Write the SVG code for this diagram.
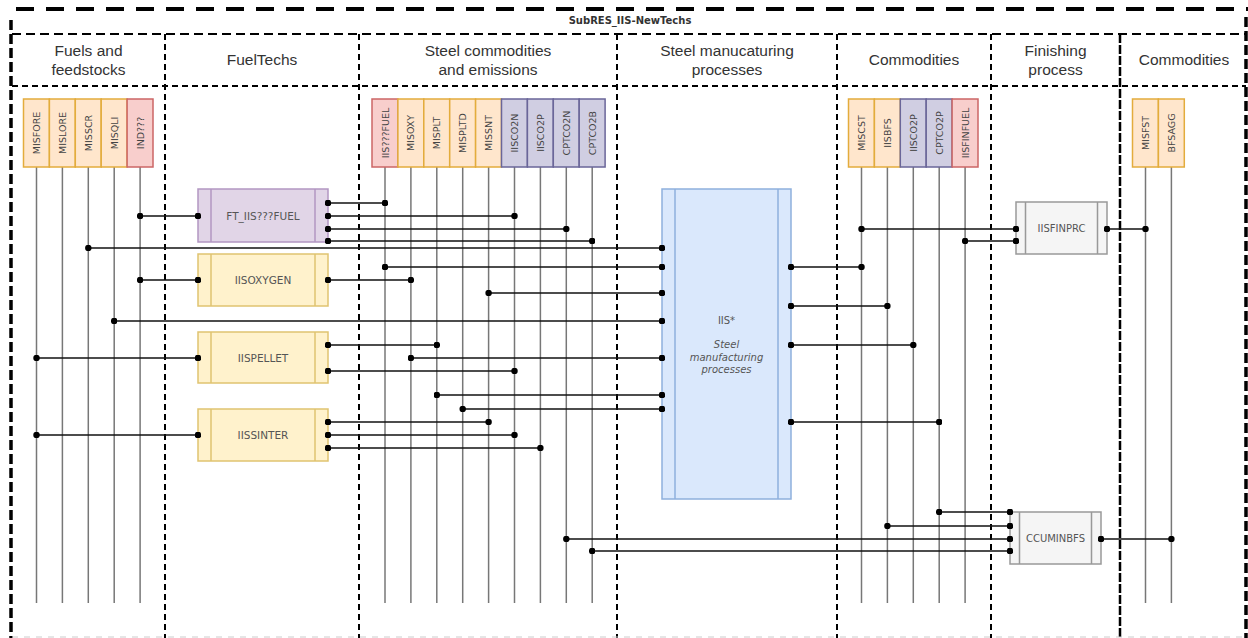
<svg xmlns="http://www.w3.org/2000/svg" width="1248" height="638" viewBox="0 0 1248 638">
<style>
.bg{fill:#fff}
.pool{stroke:#000;stroke-width:4;stroke-dasharray:18 12;fill:none}
.pooledge{stroke:#000;stroke-width:3.5;stroke-dasharray:10 4;fill:none}
.band{stroke:#000;stroke-width:2;stroke-dasharray:9 5;fill:none}
.lane{stroke:#000;stroke-width:2;stroke-dasharray:6 4;fill:none}
.lanesolid{stroke:#000;stroke-width:2.5;stroke-dasharray:9 2;fill:none}
.faint{stroke:#ccc;stroke-width:1;stroke-dasharray:6 6;fill:none}
.hdr{font-family:"Liberation Sans",Arial,sans-serif;font-size:15.5px;fill:#333;text-anchor:middle}
.title{font-family:"DejaVu Sans",Verdana,sans-serif;font-size:10px;font-weight:bold;fill:#333;text-anchor:middle}
.vl{stroke:#777;stroke-width:1.5}
.conn{stroke:#111;stroke-width:1.3;fill:none;marker-start:url(#dot);marker-end:url(#dot)}
.or{fill:#ffe6cc;stroke:#e3ac3c;stroke-width:1.5}
.pk{fill:#f8cecc;stroke:#cc6666;stroke-width:1.5}
.pu{fill:#d0cee2;stroke:#6a6699;stroke-width:1.5}
.ctxt{font-family:"DejaVu Sans",Verdana,sans-serif;font-size:9.5px;fill:#444;text-anchor:middle;dominant-baseline:central}
.pY{fill:#fff2cc;stroke:#e0c370;stroke-width:1.5}
.pP{fill:#e1d5e7;stroke:#b296c2;stroke-width:1.5}
.pB{fill:#dae8fc;stroke:#8eb0dd;stroke-width:1.5}
.pG{fill:#f5f5f5;stroke:#999;stroke-width:1.5}
.ptxt{font-family:"DejaVu Sans",Verdana,sans-serif;font-size:10.5px;fill:#555;text-anchor:middle;dominant-baseline:central}
.itxt{font-family:"DejaVu Sans",Verdana,sans-serif;font-size:10px;fill:#555;text-anchor:middle;font-style:italic}
</style>
<defs>
<marker id="dot" viewBox="0 0 6 6" refX="3" refY="3" markerWidth="6.5" markerHeight="6.5" markerUnits="userSpaceOnUse"><circle cx="3" cy="3" r="3" fill="#000"/></marker>
</defs>
<rect class="bg" x="0" y="0" width="1248" height="638"/>

<g id="pool">
<line class="pool" x1="16" y1="9" x2="1248" y2="9"/>
<line class="pooledge" x1="11" y1="20" x2="11" y2="638"/>
<line class="pooledge" x1="1246" y1="17" x2="1246" y2="638"/>
<text class="title" x="630" y="24">SubRES_IIS-NewTechs</text>
<line class="band" x1="12" y1="34" x2="1246" y2="34"/>
<line class="lane" x1="12" y1="86" x2="1246" y2="86"/>
<line class="lane" x1="165" y1="34" x2="165" y2="638"/>
<line class="lane" x1="359" y1="34" x2="359" y2="638"/>
<line class="lane" x1="617" y1="34" x2="617" y2="638"/>
<line class="lane" x1="837" y1="34" x2="837" y2="638"/>
<line class="lane" x1="991" y1="34" x2="991" y2="638"/>
<line class="lanesolid" x1="1120" y1="34" x2="1120" y2="638"/>
<line class="faint" x1="12" y1="637" x2="1246" y2="637"/>
<text class="hdr" x="88.5" y="56">Fuels and</text>
<text class="hdr" x="88.5" y="75">feedstocks</text>
<text class="hdr" x="262" y="65">FuelTechs</text>
<text class="hdr" x="488" y="56">Steel commodities</text>
<text class="hdr" x="488" y="75">and emissions</text>
<text class="hdr" x="727" y="56">Steel manucaturing</text>
<text class="hdr" x="727" y="75">processes</text>
<text class="hdr" x="914" y="65">Commodities</text>
<text class="hdr" x="1055.5" y="56">Finishing</text>
<text class="hdr" x="1055.5" y="75">process</text>
<text class="hdr" x="1184" y="65">Commodities</text>
</g>

<g id="commodity-lines">
<line class="vl" x1="36.5" y1="167" x2="36.5" y2="603"/>
<line class="vl" x1="62.4" y1="167" x2="62.4" y2="603"/>
<line class="vl" x1="88.3" y1="167" x2="88.3" y2="603"/>
<line class="vl" x1="114.2" y1="167" x2="114.2" y2="603"/>
<line class="vl" x1="140.1" y1="167" x2="140.1" y2="603"/>
<line class="vl" x1="385" y1="167" x2="385" y2="603"/>
<line class="vl" x1="410.9" y1="167" x2="410.9" y2="603"/>
<line class="vl" x1="436.8" y1="167" x2="436.8" y2="603"/>
<line class="vl" x1="462.7" y1="167" x2="462.7" y2="603"/>
<line class="vl" x1="488.6" y1="167" x2="488.6" y2="603"/>
<line class="vl" x1="514.5" y1="167" x2="514.5" y2="603"/>
<line class="vl" x1="540.4" y1="167" x2="540.4" y2="603"/>
<line class="vl" x1="566.3" y1="167" x2="566.3" y2="603"/>
<line class="vl" x1="592.2" y1="167" x2="592.2" y2="603"/>
<line class="vl" x1="861.5" y1="167" x2="861.5" y2="603"/>
<line class="vl" x1="887.4" y1="167" x2="887.4" y2="603"/>
<line class="vl" x1="913.3" y1="167" x2="913.3" y2="603"/>
<line class="vl" x1="939.2" y1="167" x2="939.2" y2="603"/>
<line class="vl" x1="965.1" y1="167" x2="965.1" y2="603"/>
<line class="vl" x1="1145.5" y1="167" x2="1145.5" y2="603"/>
<line class="vl" x1="1171.4" y1="167" x2="1171.4" y2="603"/>
</g>

<g id="MISFORE"><rect class="or" x="23.5" y="99" width="25.9" height="68"/><text class="ctxt" transform="translate(36.5 133) rotate(-90)">MISFORE</text></g>
<g id="MISLORE"><rect class="or" x="49.4" y="99" width="25.9" height="68"/><text class="ctxt" transform="translate(62.4 133) rotate(-90)">MISLORE</text></g>
<g id="MISSCR"><rect class="or" x="75.3" y="99" width="25.9" height="68"/><text class="ctxt" transform="translate(88.3 133) rotate(-90)">MISSCR</text></g>
<g id="MISQLI"><rect class="or" x="101.2" y="99" width="25.9" height="68"/><text class="ctxt" transform="translate(114.2 133) rotate(-90)">MISQLI</text></g>
<g id="IND"><rect class="pk" x="127.1" y="99" width="25.9" height="68"/><text class="ctxt" transform="translate(140.1 133) rotate(-90)">IND???</text></g>

<g id="IISFUEL"><rect class="pk" x="372" y="99" width="25.9" height="68"/><text class="ctxt" transform="translate(385 133) rotate(-90)">IIS???FUEL</text></g>
<g id="MISOXY"><rect class="or" x="397.9" y="99" width="25.9" height="68"/><text class="ctxt" transform="translate(410.9 133) rotate(-90)">MISOXY</text></g>
<g id="MISPLT"><rect class="or" x="423.8" y="99" width="25.9" height="68"/><text class="ctxt" transform="translate(436.8 133) rotate(-90)">MISPLT</text></g>
<g id="MISPLTD"><rect class="or" x="449.7" y="99" width="25.9" height="68"/><text class="ctxt" transform="translate(462.7 133) rotate(-90)">MISPLTD</text></g>
<g id="MISSNT"><rect class="or" x="475.6" y="99" width="25.9" height="68"/><text class="ctxt" transform="translate(488.6 133) rotate(-90)">MISSNT</text></g>
<g id="IISCO2N"><rect class="pu" x="501.5" y="99" width="25.9" height="68"/><text class="ctxt" transform="translate(514.5 133) rotate(-90)">IISCO2N</text></g>
<g id="IISCO2P-a"><rect class="pu" x="527.4" y="99" width="25.9" height="68"/><text class="ctxt" transform="translate(540.4 133) rotate(-90)">IISCO2P</text></g>
<g id="CPTCO2N"><rect class="pu" x="553.3" y="99" width="25.9" height="68"/><text class="ctxt" transform="translate(566.3 133) rotate(-90)">CPTCO2N</text></g>
<g id="CPTCO2B"><rect class="pu" x="579.2" y="99" width="25.9" height="68"/><text class="ctxt" transform="translate(592.2 133) rotate(-90)">CPTCO2B</text></g>

<g id="MISCST"><rect class="or" x="848.5" y="99" width="25.9" height="68"/><text class="ctxt" transform="translate(861.5 133) rotate(-90)">MISCST</text></g>
<g id="IISBFS"><rect class="or" x="874.4" y="99" width="25.9" height="68"/><text class="ctxt" transform="translate(887.4 133) rotate(-90)">IISBFS</text></g>
<g id="IISCO2P-b"><rect class="pu" x="900.3" y="99" width="25.9" height="68"/><text class="ctxt" transform="translate(913.3 133) rotate(-90)">IISCO2P</text></g>
<g id="CPTCO2P"><rect class="pu" x="926.2" y="99" width="25.9" height="68"/><text class="ctxt" transform="translate(939.2 133) rotate(-90)">CPTCO2P</text></g>
<g id="IISFINFUEL"><rect class="pk" x="952.1" y="99" width="25.9" height="68"/><text class="ctxt" transform="translate(965.1 133) rotate(-90)">IISFINFUEL</text></g>

<g id="MISFST"><rect class="or" x="1132.5" y="99" width="25.9" height="68"/><text class="ctxt" transform="translate(1145.5 133) rotate(-90)">MISFST</text></g>
<g id="BFSAGG"><rect class="or" x="1158.4" y="99" width="25.9" height="68"/><text class="ctxt" transform="translate(1171.4 133) rotate(-90)">BFSAGG</text></g>

<g id="FT_IISFUEL"><rect class="pP" x="198" y="189" width="130" height="53"/><path class="pP" d="M211 189V242M315 189V242"/><text class="ptxt" x="263" y="215.5">FT_IIS???FUEL</text></g>
<g id="IISOXYGEN"><rect class="pY" x="198" y="254" width="130" height="52"/><path class="pY" d="M211 254V306M315 254V306"/><text class="ptxt" x="263" y="280">IISOXYGEN</text></g>
<g id="IISPELLET"><rect class="pY" x="198" y="332" width="130" height="51"/><path class="pY" d="M211 332V383M315 332V383"/><text class="ptxt" x="263" y="357.5">IISPELLET</text></g>
<g id="IISSINTER"><rect class="pY" x="198" y="409" width="130" height="52"/><path class="pY" d="M211 409V461M315 409V461"/><text class="ptxt" x="263" y="435">IISSINTER</text></g>

<g id="IIS"><rect class="pB" x="662" y="189" width="129" height="310"/><path class="pB" d="M675 189V499M778 189V499"/>
<text class="ptxt" x="726.5" y="320" style="font-size:10px">IIS*</text>
<text class="itxt" x="726.5" y="348">Steel</text>
<text class="itxt" x="726.5" y="360.5">manufacturing</text>
<text class="itxt" x="726.5" y="373">processes</text></g>

<g id="IISFINPRC"><rect class="pG" x="1016" y="202" width="91" height="52"/><path class="pG" d="M1025.5 202V254M1097.5 202V254"/><text class="ptxt" x="1061.5" y="228.5" style="font-size:10px">IISFINPRC</text></g>
<g id="CCUMINBFS"><rect class="pG" x="1010" y="512" width="91" height="52"/><path class="pG" d="M1019.5 512V564M1091.5 512V564"/><text class="ptxt" x="1055.5" y="538.5" style="font-size:10px">CCUMINBFS</text></g>

<g id="connectors">
<path class="conn" d="M140.1 216H198"/>
<path class="conn" d="M328 203H385"/>
<path class="conn" d="M328 216H514.5"/>
<path class="conn" d="M328 229H566.3"/>
<path class="conn" d="M328 241H592.2"/>
<path class="conn" d="M88.3 248H662"/>
<path class="conn" d="M385 267H662"/>
<path class="conn" d="M140.1 280H198"/>
<path class="conn" d="M328 280H410.9"/>
<path class="conn" d="M488.6 293H662"/>
<path class="conn" d="M114.2 321H662"/>
<path class="conn" d="M36.5 358H198"/>
<path class="conn" d="M328 345H436.8"/>
<path class="conn" d="M328 371H514.5"/>
<path class="conn" d="M410.9 358H662"/>
<path class="conn" d="M436.8 395H662"/>
<path class="conn" d="M462.7 409H662"/>
<path class="conn" d="M36.5 435H198"/>
<path class="conn" d="M328 422H488.6"/>
<path class="conn" d="M328 435H514.5"/>
<path class="conn" d="M328 448H540.4"/>
<path class="conn" d="M791 267H861.5"/>
<path class="conn" d="M791 306H887.4"/>
<path class="conn" d="M791 345H913.3"/>
<path class="conn" d="M791 422H939.2"/>
<path class="conn" d="M861.5 229H1016"/>
<path class="conn" d="M965.1 241H1016"/>
<path class="conn" d="M1107 229H1145.5"/>
<path class="conn" d="M939.2 512H1010"/>
<path class="conn" d="M887.4 526H1010"/>
<path class="conn" d="M566.3 539H1010"/>
<path class="conn" d="M592.2 551H1010"/>
<path class="conn" d="M1101 539H1171.4"/>
</g>
</svg>
